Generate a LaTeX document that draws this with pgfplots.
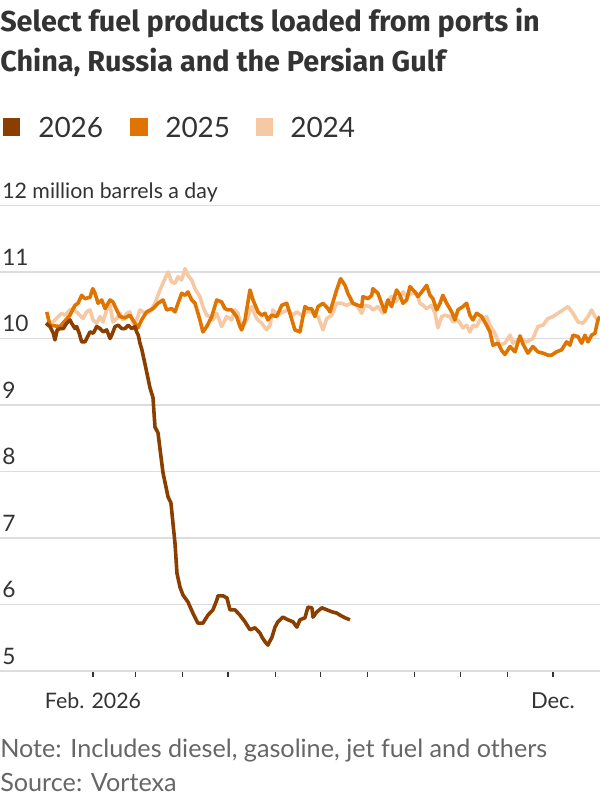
\documentclass[border=0pt]{standalone}
\usepackage{pgfplots}
\pgfplotsset{compat=1.18}
\usepackage{fontspec}
\setmainfont{Lato}
\newfontfamily\titlefont{Fira Sans}
\definecolor{c26}{HTML}{8A3F00}
\definecolor{c25}{HTML}{E07400}
\definecolor{c24}{HTML}{F5C9A3}
\definecolor{txt}{HTML}{333333}
\definecolor{notec}{HTML}{666666}
\definecolor{gridc}{HTML}{DDDDDD}
\tikzset{ylab/.style={anchor=base west, inner sep=0pt, xshift=1.5pt, yshift=5.25pt, font=\fontsize{17}{20}\selectfont, text=txt}}
\begin{document}
\begin{tikzpicture}
\useasboundingbox (0,-96.75pt) rectangle (450pt,503.25pt);
\begin{axis}[
  at={(0,0)}, anchor=south west,
  scale only axis, width=450pt, height=349.1pt,
  xmin=-30.3, xmax=365, ymin=5, ymax=12,
  axis x line*=bottom, axis y line*=left,
  x axis line style={draw=gridc, line width=1.1pt, -},
  y axis line style={draw=none},
  ytick={5,6,7,8,9,10,11,12},
  yticklabels={},
  ymajorgrids, major grid style={draw=gridc, line width=1.1pt},
  ytick style={draw=none}, major tick length=4.5pt,
  xtick={31,59,90,120,151,181,212,243,273,304,334},
  xticklabels={},
  xtick style={draw=txt, line width=1pt},
  tick align=outside,
  /pgf/number format/assume math mode=true,
  clip mode=individual,
]
\addplot[c24, line width=2.7pt, line join=round] coordinates {
(0,10.20)(4.6,10.25)(10.3,10.38)(12.5,10.35)(15.8,10.43)(17.8,10.45)(21.1,10.38)(24.4,10.30)(26.8,10.40)(29.0,10.43)
(31.0,10.28)(33.4,10.23)(35.6,10.33)(37.5,10.25)(40.0,10.43)(42.2,10.50)(44.1,10.25)(46.6,10.30)(48.7,10.38)(50.7,10.28)
(53.2,10.38)(55.3,10.40)(57.3,10.23)(59.7,10.28)(61.9,10.43)(65.2,10.38)(68.5,10.40)(71.8,10.53)(75.1,10.73)(78.4,10.90)
(80.4,11.00)(82.8,10.85)(85.0,10.83)(87.0,10.93)(89.4,10.88)(91.6,11.05)(93.5,10.95)(96.0,10.88)(98.2,10.75)(101.4,10.63)
(103.4,10.48)(105.9,10.35)(108.0,10.33)(110.0,10.28)(112.5,10.38)(115.7,10.18)(119.0,10.33)(122.3,10.28)(124.5,10.43)(126.5,10.38)
(128.9,10.15)(132.2,10.28)(135.5,10.48)(138.8,10.30)(142.1,10.23)(145.4,10.13)(147.6,10.20)(149.5,10.43)(152.8,10.35)(156.1,10.40)
(159.4,10.43)(162.7,10.35)(165.2,10.40)(168.4,10.35)(171.7,10.40)(173.9,10.40)(175.9,10.40)(179.2,10.33)(182.5,10.13)(184.9,10.30)
(188.2,10.35)(191.5,10.53)(194.8,10.53)(198.1,10.50)(201.4,10.53)(204.7,10.50)(208.0,10.38)(210.1,10.50)(213.4,10.48)(215.4,10.43)
(218.7,10.48)(222.0,10.38)(224.4,10.55)(227.7,10.63)(229.9,10.55)(233.2,10.63)(235.2,10.70)(237.6,10.63)(240.9,10.68)(244.2,10.68)
(246.4,10.53)(248.4,10.50)(250.8,10.45)(254.1,10.50)(256.3,10.38)(258.2,10.16)(260.7,10.33)(262.8,10.35)(266.1,10.33)(268.1,10.25)
(271.4,10.28)(274.7,10.16)(277.1,10.20)(279.3,10.10)(281.3,10.20)(283.7,10.18)(285.9,10.28)(290.3,10.33)(292.5,10.20)(295.7,10.08)
(299.0,9.90)(302.4,9.93)(305.7,10.05)(307.7,9.93)(312.3,10.00)(316.7,9.95)(320.8,10.00)(324.1,10.18)(327.4,10.20)(330.7,10.30)
(334.0,10.33)(337.3,10.38)(340.6,10.43)(343.9,10.48)(347.2,10.38)(350.5,10.25)(353.8,10.23)(357.1,10.33)(359.5,10.43)(361.7,10.33)
(363.6,10.28)(365,10.27)
};
\addplot[c25, line width=2.7pt, line join=round] coordinates {
(0.5,10.40)(2.6,10.20)(9.2,10.18)(15.8,10.35)(19.1,10.50)(21.1,10.53)(23.5,10.65)(25.7,10.60)(29.0,10.62)(30.8,10.75)
(32.3,10.68)(34.3,10.53)(36.7,10.58)(38.9,10.45)(42.2,10.58)(44.1,10.55)(46.6,10.43)(48.7,10.33)(52.0,10.31)(55.3,10.35)
(58.6,10.23)(60.6,10.16)(63.0,10.28)(66.3,10.40)(70.5,10.45)(73.8,10.53)(77.1,10.58)(79.5,10.43)(82.8,10.45)(85.0,10.40)
(87.0,10.53)(89.4,10.68)(91.6,10.65)(93.5,10.70)(96.0,10.58)(98.2,10.53)(101.4,10.28)(103.4,10.10)(105.9,10.18)(109.2,10.33)
(112.5,10.58)(115.7,10.55)(117.9,10.45)(119.9,10.43)(122.3,10.43)(125.6,10.33)(127.8,10.18)(128.9,10.13)(131.1,10.28)(134.4,10.73)
(136.4,10.58)(139.7,10.40)(142.1,10.35)(144.3,10.38)(146.2,10.28)(148.7,10.35)(152.0,10.33)(155.3,10.50)(158.6,10.53)(160.7,10.38)
(164.0,10.13)(167.3,10.10)(170.6,10.48)(172.6,10.45)(175.0,10.45)(177.2,10.33)(179.2,10.48)(182.5,10.53)(185.8,10.45)(187.1,10.40)
(189.1,10.55)(191.5,10.73)(194.1,10.90)(197.0,10.80)(198.9,10.68)(202.2,10.53)(205.5,10.50)(208.0,10.48)(208.8,10.63)(212.1,10.60)
(214.6,10.65)(215.4,10.75)(218.7,10.68)(221.1,10.53)(223.3,10.40)(225.3,10.58)(227.7,10.48)(231.0,10.73)(233.2,10.65)(235.2,10.53)
(237.6,10.58)(239.8,10.78)(243.1,10.70)(245.1,10.63)(247.5,10.70)(250.8,10.80)(253.0,10.65)(254.9,10.60)(257.4,10.43)(259.6,10.53)
(261.5,10.65)(264.0,10.53)(267.3,10.40)(269.4,10.28)(271.4,10.43)(274.7,10.48)(277.1,10.53)(279.3,10.35)(281.3,10.28)(283.7,10.38)
(287.0,10.33)(290.3,10.20)(292.5,10.10)(294.5,9.90)(297.8,9.93)(300.2,9.82)(302.4,9.76)(305.7,9.88)(309.0,9.80)(312.3,10.04)
(314.2,9.92)(317.5,9.78)(320.8,9.88)(324.1,9.80)(327.4,9.78)(330.7,9.75)(333.1,9.75)(336.4,9.80)(339.7,9.83)(343.0,9.95)
(345.2,9.90)(347.2,10.05)(350.5,10.03)(352.9,9.93)(355.1,10.05)(357.1,9.95)(359.5,10.05)(361.7,10.08)(363.6,10.28)(365.0,10.33)
};
\addplot[c26, line width=2.7pt, line join=round] coordinates {
(0.0,10.23)(2.6,10.18)(4.8,10.08)(5.9,9.98)(7.4,10.13)(9.2,10.15)(11.4,10.15)(13.6,10.23)(15.8,10.28)(16.9,10.23)
(19.1,10.15)(20.2,10.18)(21.9,10.08)(23.5,9.95)(25.7,9.95)(27.9,10.05)(29.0,10.10)(31.2,10.08)(33.4,10.18)(35.6,10.15)
(37.7,10.10)(40.0,10.13)(42.2,10.00)(43.3,10.05)(45.5,10.18)(47.6,10.20)(49.9,10.15)(52.0,10.15)(54.2,10.20)(56.5,10.15)
(58.6,10.18)(59.7,10.10)(60.8,10.05)(61.9,9.93)(63.2,9.83)(66.5,9.48)(68.5,9.26)(70.5,9.11)(71.8,8.67)(73.8,8.58)
(77.1,7.98)(80.4,7.62)(82.3,7.53)(85.0,6.92)(86.3,6.47)(88.3,6.26)(90.3,6.14)(93.5,6.04)(96.8,5.87)(100.1,5.72)
(103.4,5.72)(106.7,5.84)(110.0,5.92)(112.6,6.07)(113.3,6.13)(116.6,6.13)(119.2,6.10)(121.2,5.92)(124.5,5.92)(127.8,5.84)
(131.1,5.74)(134.4,5.62)(137.7,5.65)(141.0,5.57)(142.3,5.51)(144.3,5.44)(146.2,5.39)(148.9,5.51)(150.9,5.66)(152.8,5.74)
(156.1,5.81)(159.4,5.77)(162.7,5.74)(165.3,5.66)(167.3,5.77)(170.6,5.80)(172.6,5.96)(175.2,5.95)(175.9,5.81)(178.5,5.89)
(181.8,5.95)(185.1,5.92)(188.4,5.89)(191.7,5.87)(193.7,5.84)(197.0,5.80)(200.3,5.77)
};
\node[ylab] at (axis cs:-30.3,5) {5};
\node[ylab] at (axis cs:-30.3,6) {6};
\node[ylab] at (axis cs:-30.3,7) {7};
\node[ylab] at (axis cs:-30.3,8) {8};
\node[ylab] at (axis cs:-30.3,9) {9};
\node[ylab] at (axis cs:-30.3,10) {10};
\node[ylab] at (axis cs:-30.3,11) {11};
\node[ylab, font=\fontsize{16}{19}\selectfont] at (axis cs:-30.3,12) {12 million barrels a day};
\node[anchor=base, text=txt, font=\fontsize{16}{19}\selectfont, inner sep=0pt] at (axis cs:31,5) [yshift=-27.75pt] {Feb. 2026};
\node[anchor=base, text=txt, font=\fontsize{16.5}{19}\selectfont, inner sep=0pt] at (axis cs:334,5) [yshift=-27.75pt] {Dec.};
\end{axis}
% title
\node[anchor=base west, inner sep=0pt, text=txt, font=\titlefont\bfseries\fontsize{21.6}{25}\selectfont] at (0,479.25pt) {Select fuel products loaded from ports in};
\node[anchor=base west, inner sep=0pt, text=txt, font=\titlefont\bfseries\fontsize{21.6}{25}\selectfont] at (0,449.25pt) {China, Russia and the Persian Gulf};
% legend
\fill[c26] (2.25pt,401.25pt) rectangle (15pt,414.75pt);
\fill[c25] (97.5pt,401.25pt) rectangle (111pt,414.75pt);
\fill[c24] (192pt,401.25pt) rectangle (204.75pt,414.75pt);
\node[anchor=base west, inner sep=0pt, text=txt, font=\fontsize{21}{24}\selectfont] at (28.5pt,399.75pt) {2026};
\node[anchor=base west, inner sep=0pt, text=txt, font=\fontsize{21}{24}\selectfont] at (123.75pt,399.75pt) {2025};
\node[anchor=base west, inner sep=0pt, text=txt, font=\fontsize{21}{24}\selectfont] at (217.5pt,399.75pt) {2024};
% notes
\node[anchor=base west, inner sep=0pt, text=notec, font=\fontsize{18.9}{22}\selectfont] at (0,-64.5pt) {Note: Includes diesel, gasoline, jet fuel and others};
\node[anchor=base west, inner sep=0pt, text=notec, font=\fontsize{18.9}{22}\selectfont] at (0,-90pt) {Source: Vortexa};
\end{tikzpicture}
\end{document}
